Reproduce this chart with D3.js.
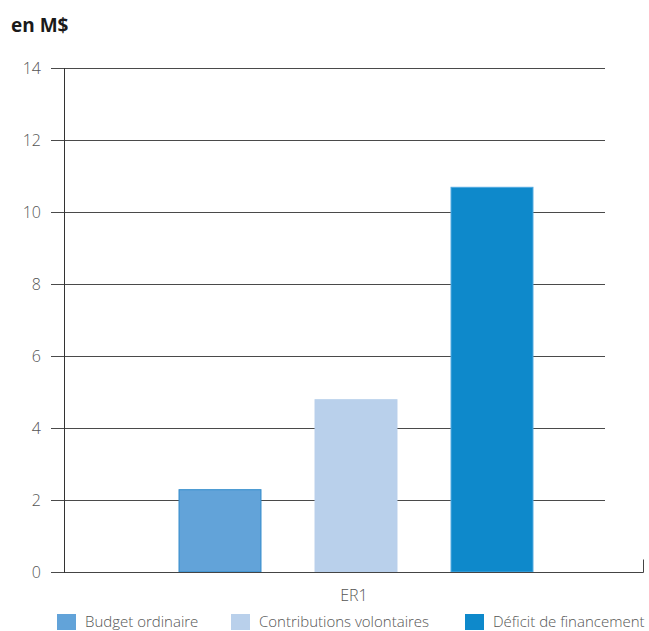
<!DOCTYPE html>
<html>
<head>
<meta charset="utf-8">
<script src="https://cdn.jsdelivr.net/npm/d3@7"></script>
<style>
  html, body { margin: 0; padding: 0; background: #fff; }
  svg { display: block; }
  text { font-family: "Open Sans", "Noto Sans", sans-serif; }
</style>
</head>
<body>
<svg id="chart" width="649" height="631"></svg>
<script>
// Funding by source for the expected result, in millions of dollars
const categories = ["ER1"];
const seriesNames = ["Budget ordinaire", "Contributions volontaires", "Déficit de financement"];
const budgetOrdinaire = [2.3];
const contributionsVolontaires = [4.8];
const deficitFinancement = [10.7];
const yTicks = [0, 2, 4, 6, 8, 10, 12, 14];
const colors = ["#62a3d9", "#b9d0eb", "#0e89cb"];
const strokes = ["#2f8acb", "#b9d0eb", "#4fa9e0"];

const seriesValues = [budgetOrdinaire, contributionsVolontaires, deficitFinancement];

const svg = d3.select("#chart");
const plot = { left: 64, right: 644, top: 68, bottom: 572 };
const gridLeft = 51, gridRight = 605;

const y = d3.scaleLinear().domain([0, 14]).range([plot.bottom, plot.top]);
const x0 = d3.scaleBand().domain(categories).range([plot.left, plot.right]).padding(0);
const x1 = d3.scaleBand().domain(seriesNames).range([0, 408]).paddingInner(0.39).paddingOuter(0.195);

// Title
svg.append("text")
  .attr("x", 11).attr("y", 32)
  .attr("font-size", 19).attr("font-weight", 700).attr("fill", "#1a1a1a")
  .text("en M$");

// Horizontal gridlines with tick labels
const gridWidth = gridRight - gridLeft;
const yAxis = d3.axisLeft(y).tickValues(yTicks).tickSize(gridWidth).tickFormat(d3.format("d"));
const gy = svg.append("g").attr("transform", `translate(${gridRight},0)`);
gy.call(yAxis);
gy.select(".domain").remove();
gy.selectAll(".tick line").attr("stroke", "#4a4a4a").attr("stroke-width", 1).attr("x1", 0).attr("x2", -gridWidth);
gy.selectAll(".tick text")
  .attr("x", -gridWidth - 10)
  .attr("font-size", 16).attr("fill", "#555").attr("font-weight", 300)
  .attr("font-family", "'Open Sans', 'Noto Sans', sans-serif");

// Bars
const groups = svg.append("g").selectAll("g")
  .data(categories)
  .join("g")
  .attr("transform", d => `translate(${x0(d) + x0.bandwidth() / 2 - 202},0)`);

groups.selectAll("rect")
  .data((d, i) => seriesNames.map((s, k) => ({ s, k, v: seriesValues[k][i] })))
  .join("rect")
  .attr("x", d => x1(d.s) + 0.5)
  .attr("y", d => y(d.v) + 0.5)
  .attr("width", x1.bandwidth() - 1)
  .attr("height", d => y(0) - y(d.v) - 0.5)
  .attr("fill", d => colors[d.k])
  .attr("stroke", d => strokes[d.k])
  .attr("stroke-width", 1);

// Category axis along the bottom
const xAxis = d3.axisBottom(x0).tickSize(0).tickPadding(17);
const gx = svg.append("g").attr("transform", `translate(0,${plot.bottom + 0.5})`);
gx.call(xAxis);
gx.select(".domain").attr("stroke", "#444").attr("d", `M${plot.left},0H${plot.right - 0.5}V-13`);
gx.selectAll(".tick text")
  .attr("font-size", 16).attr("fill", "#555").attr("font-weight", 300)
  .attr("font-family", "'Open Sans', 'Noto Sans', sans-serif");

// Vertical axis line
svg.append("line")
  .attr("x1", plot.left + 0.5).attr("x2", plot.left + 0.5)
  .attr("y1", y(14)).attr("y2", y(0) + 1)
  .attr("stroke", "#333").attr("stroke-width", 1);

// Legend
const legendX = [57, 231, 465];
const legend = svg.append("g").selectAll("g")
  .data(seriesNames)
  .join("g")
  .attr("transform", (d, i) => `translate(${legendX[i]},614)`);
legend.append("rect")
  .attr("width", 19).attr("height", 16)
  .attr("fill", (d, i) => colors[i]);
legend.append("text")
  .attr("x", 28).attr("y", 13)
  .attr("font-size", 15).attr("fill", "#555").attr("font-weight", 300)
  .text(d => d);
</script>
</body>
</html>
